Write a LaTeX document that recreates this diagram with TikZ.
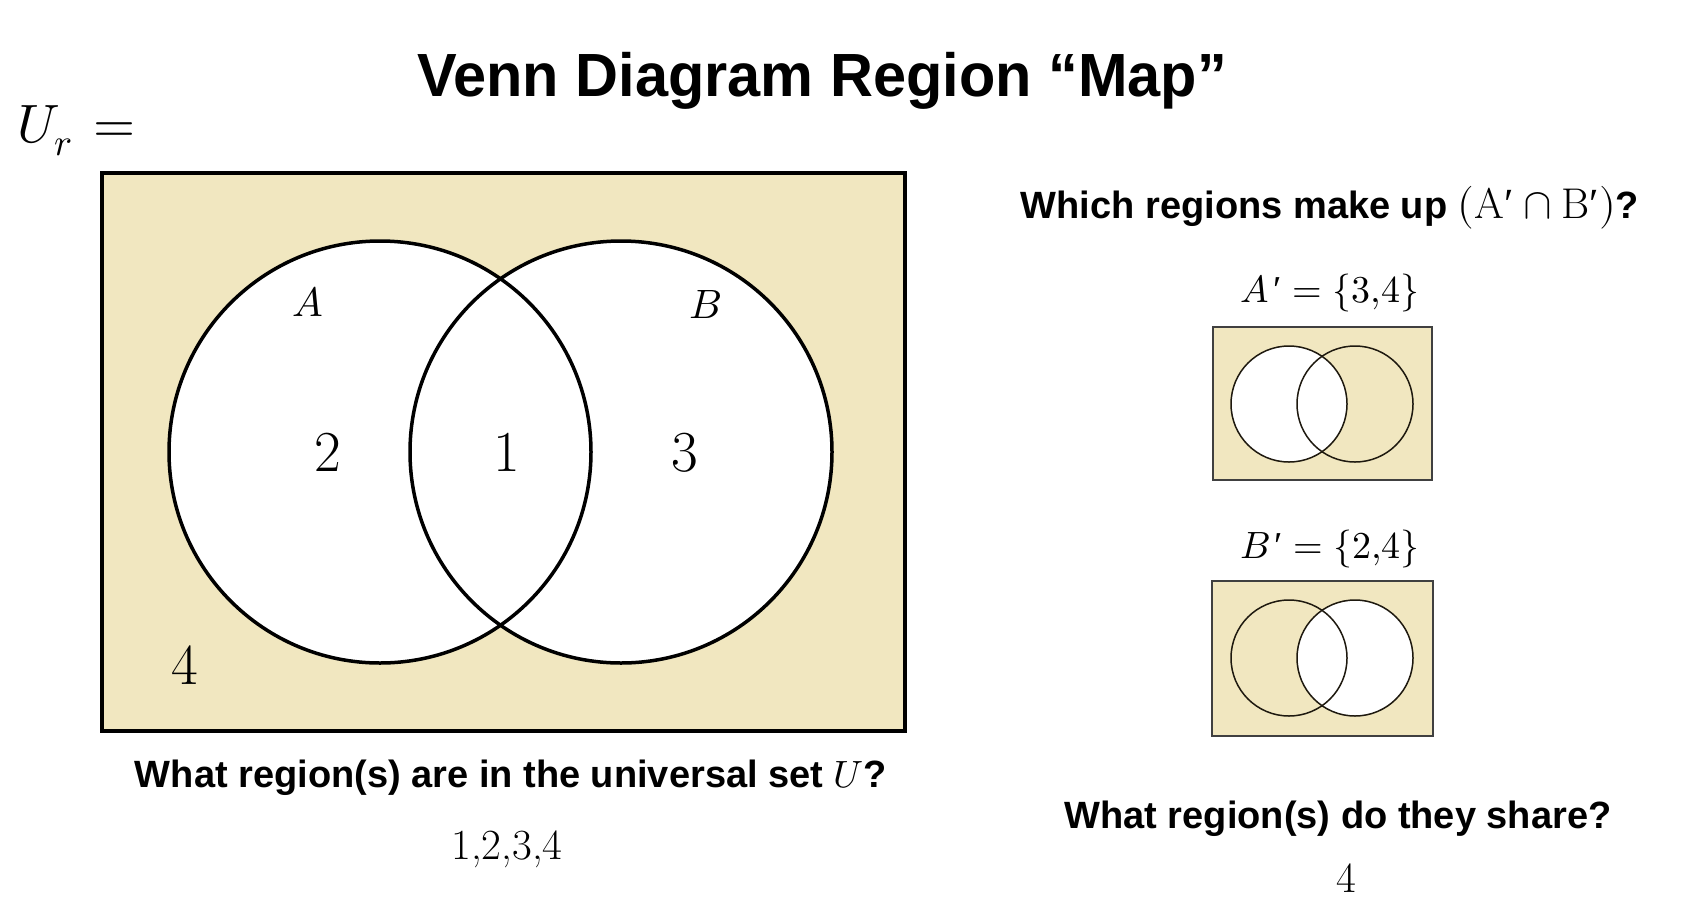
\documentclass[tikz,border=0pt]{standalone}
\usepackage{fontspec}
\usepackage{unicode-math}
\setmathfont{Latin Modern Math}
\newfontfamily\titlefont[FakeStretch=0.975]{Liberation Sans}
\newfontfamily\qfont{Liberation Sans}
\newfontfamily\primefont{Liberation Serif}
\newcommand{\tprime}{\hbox{\primefont\mdseries\upshape\char"2032}}
\definecolor{tanfill}{RGB}{241,231,192}
\definecolor{smallline}{RGB}{30,25,15}
\tikzset{
  titletext/.style={anchor=base, inner sep=0pt, font=\titlefont\bfseries\fontsize{61}{70}\selectfont},
  qtext/.style={anchor=base, inner sep=0pt, font=\qfont\bfseries\fontsize{38}{44}\selectfont},
  bignum/.style={anchor=base, inner sep=0pt, font=\fontsize{58}{64}\selectfont},
  setlab/.style={anchor=base, inner sep=0pt, font=\fontsize{41}{46}\selectfont},
  mathlab/.style={anchor=base, inner sep=0pt, font=\fontsize{38}{44}\selectfont},
  ansnum/.style={anchor=base, inner sep=0pt, font=\fontsize{43}{48}\selectfont},
  bigcircle/.style={line width=3.5pt, draw=black},
  bigrect/.style={line width=4.5pt, draw=black},
  smallcircle/.style={line width=1.5pt, draw=smallline},
  smallrect/.style={line width=1.2pt, draw=black!75},
}
\begin{document}
\begin{tikzpicture}[x=1pt,y=-1pt]
\useasboundingbox (0,0) rectangle (1684,908);
\fill[white] (0,0) rectangle (1684,908);

% title
\node[titletext] (title) at (822,96) {Venn Diagram Region \char"201C Map\char"201D};
\node[anchor=base west, inner sep=0pt, font=\fontsize{54}{60}\selectfont] (ur) at (17,142) {$U_r\mkern2mu=$};

% big Venn diagram
\fill[tanfill] (102,173) rectangle (905,731);
\fill[white] (380,452) circle (211) (621,452) circle (211);
\draw[bigcircle] (380,452) circle (211);
\draw[bigcircle] (621,452) circle (211);
\draw[bigrect] (102,173) rectangle (905,731);
\node[setlab] (la) at (308,316) {$A$};
\node[setlab] (lb) at (706,318) {$B$};
\node[bignum] (r2) at (328,471) {2};
\node[bignum] (r1) at (507,471) {1};
\node[bignum] (r3) at (685,471) {3};
\node[bignum] (r4) at (185,684) {4};

\node[qtext] (q1) at (511,787) {What region(s) are in the universal set $U$?};
\node[ansnum] (a1) at (507,859) {1,2,3,4};

% right side
\node[qtext] (q2) at (1330,218) {Which regions make up {\fontsize{43}{48}\selectfont$(\mathrm{A}\tprime\cap\mathrm{B}\tprime)$}?};
\node[mathlab] (ap) at (1330,302) {$A\mkern2mu\tprime = \{3{,}4\}$};

\fill[tanfill] (1213,327) rectangle (1432,480);
\draw[smallrect] (1213,327) rectangle (1432,480);
\fill[white] (1289,404) circle (58);
\draw[smallcircle] (1289,404) circle (58);
\draw[smallcircle] (1355,404) circle (58);

\node[mathlab] (bp) at (1330,558) {$B\mkern2mu\tprime = \{2{,}4\}$};

\fill[tanfill] (1212,581) rectangle (1433,736);
\draw[smallrect] (1212,581) rectangle (1433,736);
\fill[white] (1355,658) circle (58);
\draw[smallcircle] (1289,658) circle (58);
\draw[smallcircle] (1355,658) circle (58);

\node[qtext] (q3) at (1338,828) {What region(s) do they share?};
\node[ansnum] (a3) at (1346,892) {4};
\end{tikzpicture}
\end{document}
